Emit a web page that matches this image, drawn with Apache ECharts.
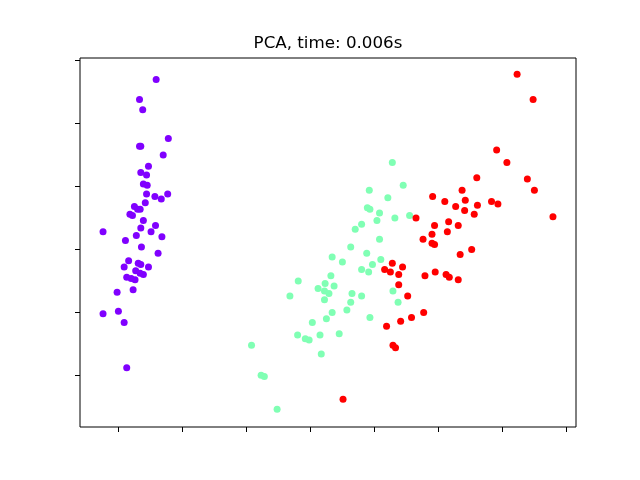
<!DOCTYPE html>
<html>
<head>
<meta charset="utf-8">
<script src="https://cdn.jsdelivr.net/npm/echarts@6/dist/echarts.min.js"></script>
<style>
  html, body { margin: 0; padding: 0; background: #fff; }
  #main { width: 640px; height: 480px; }
</style>
</head>
<body>
<div id="main"></div>
<script>
// PCA projection of the three classes
var setosa = [
  [-2.40, 1.35], [-2.66, 1.19], [-2.61, 1.11], [-2.21, 0.88], [-2.66, 0.82],
  [-2.64, 0.82], [-2.29, 0.75], [-2.52, 0.66], [-2.64, 0.61], [-2.55, 0.59],
  [-2.60, 0.52], [-2.54, 0.51], [-2.55, 0.44], [-2.22, 0.44], [-2.42, 0.42],
  [-2.32, 0.40], [-2.57, 0.37], [-2.74, 0.34], [-2.69, 0.32], [-2.65, 0.32],
  [-2.81, 0.28], [-2.77, 0.27], [-2.60, 0.23], [-2.41, 0.19], [-3.23, 0.14],
  [-2.64, 0.17], [-2.48, 0.14], [-2.71, 0.11], [-2.31, 0.10], [-2.88, 0.07],
  [-2.63, 0.02], [-2.37, -0.03], [-2.83, -0.09], [-2.68, -0.11], [-2.64, -0.12],
  [-2.90, -0.14], [-2.52, -0.14], [-2.72, -0.17], [-2.65, -0.19], [-2.60, -0.20],
  [-2.86, -0.22], [-2.79, -0.23], [-2.73, -0.24], [-2.76, -0.32], [-3.01, -0.34],
  [-2.99, -0.49], [-3.23, -0.51], [-2.90, -0.58], [-2.86, -0.94]
];
var versicolor = [
  [0.33, -0.21], [-0.18, -0.25], [0.24, -0.27], [0.38, -0.29], [0.13, -0.31],
  [0.23, -0.33], [0.30, -0.35], [0.66, -0.35], [-0.31, -0.37], [0.23, -0.40],
  [0.64, -0.42], [0.58, -0.48], [0.35, -0.50], [0.26, -0.55], [0.04, -0.58],
  [-0.19, -0.68], [0.16, -0.68], [0.46, -0.67], [-0.07, -0.71], [-0.01, -0.72],
  [-0.91, -0.76], [0.18, -0.83], [-0.76, -1.00], [-0.71, -1.01], [-0.51, -1.27],
  [1.29, 0.69], [1.46, 0.51], [0.93, 0.47], [1.22, 0.41], [0.90, 0.33],
  [0.94, 0.32], [1.09, 0.29], [1.33, 0.25], [1.56, 0.27], [1.05, 0.23],
  [0.81, 0.20], [0.71, 0.16], [1.09, 0.08], [0.64, 0.02], [0.89, -0.03],
  [0.35, -0.06], [0.51, -0.10], [1.11, -0.08], [0.98, -0.12], [0.81, -0.16],
  [0.92, -0.18], [0.81, -0.37], [1.30, -0.33], [1.38, -0.42], [0.94, -0.54]
];
var virginica = [
  [0.52, -1.19], [1.29, -0.11], [1.45, -0.14], [1.17, -0.16], [1.26, -0.18],
  [1.39, -0.20], [1.80, -0.21], [1.96, -0.18], [1.39, -0.28], [1.53, -0.37],
  [1.78, -0.50], [1.59, -0.54], [1.42, -0.57], [1.20, -0.61], [1.30, -0.76],
  [1.34, -0.78], [2.61, 0.57], [2.38, 0.47], [1.92, 0.42], [2.11, 0.38],
  [2.43, 0.39], [2.28, 0.34], [2.62, 0.35], [2.84, 0.38], [2.94, 0.36],
  [2.42, 0.31], [2.57, 0.28], [1.66, 0.25], [2.17, 0.22], [1.95, 0.19],
  [2.32, 0.19], [2.15, 0.14], [1.91, 0.12], [1.77, 0.08], [1.91, 0.05],
  [1.95, 0.04], [2.53, 0.00], [2.35, -0.04], [2.13, -0.20], [2.18, -0.22],
  [2.32, -0.24], [3.24, 1.39], [3.49, 1.19], [2.92, 0.79], [3.08, 0.69],
  [3.40, 0.56], [3.51, 0.47], [3.80, 0.26]
];
var xTicks = [-3, -2, -1, 0, 1, 2, 3, 4];
var yTicks = [-1.0, -0.5, 0.0, 0.5, 1.0, 1.5];
var titleText = 'PCA, time: 0.006s';

var chart = echarts.init(document.getElementById('main'), null, { renderer: 'canvas' });

function axis(ticks, min, max) {
  return {
    type: 'value',
    min: min,
    max: max,
    splitLine: { show: false },
    axisLine: { show: false, onZero: false },
    axisLabel: { show: false, customValues: ticks },
    axisTick: {
      show: true,
      inside: false,
      length: 5,
      customValues: ticks,
      lineStyle: { color: '#000', width: 1 }
    }
  };
}

function dots(name, data, color) {
  return {
    name: name,
    type: 'scatter',
    data: data,
    symbol: 'circle',
    symbolSize: 7,
    itemStyle: { color: color, opacity: 1 },
    emphasis: { disabled: true }
  };
}

chart.setOption({
  animation: false,
  backgroundColor: '#fff',
  graphic: [{
    type: 'text',
    x: 328,
    y: 44,
    style: {
      text: titleText,
      fill: '#000',
      font: '16.7px "DejaVu Sans"',
      align: 'center',
      verticalAlign: 'middle'
    }
  }],
  grid: {
    left: 80, right: 64, top: 58, bottom: 53,
    show: true, borderColor: '#000', borderWidth: 1, backgroundColor: 'transparent'
  },
  xAxis: axis(xTicks, -3.59, 4.16),
  yAxis: axis(yTicks, -1.41, 1.52),
  series: [
    dots('setosa', setosa, '#8000ff'),
    dots('versicolor', versicolor, '#80ffb4'),
    dots('virginica', virginica, '#ff0000')
  ]
});
</script>
</body>
</html>
